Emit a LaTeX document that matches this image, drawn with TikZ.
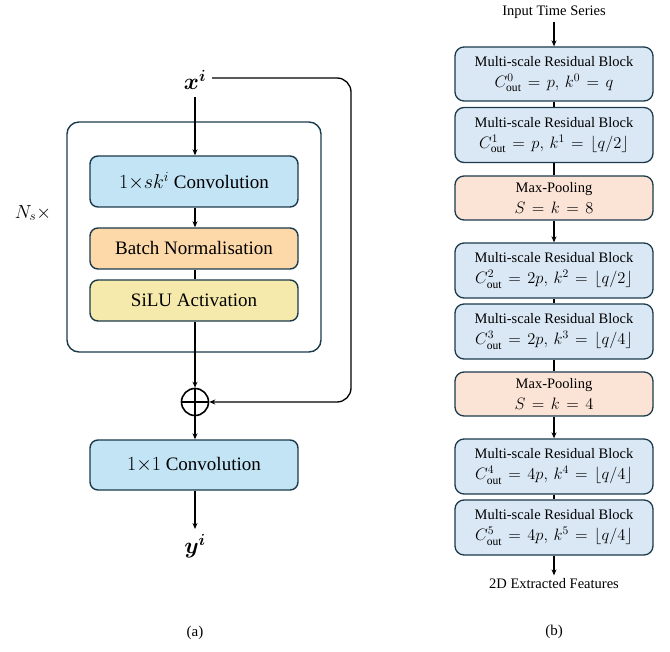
\RequirePackage{fix-cm}
\documentclass[tikz,border=0pt]{standalone}
\usepackage{amsmath,bm}
\usepackage{fontspec}
\setmainfont{Liberation Serif}
\usetikzlibrary{arrows.meta}
\definecolor{navy}{HTML}{1B3A4B}
\definecolor{convblue}{HTML}{C2E4F5}
\definecolor{bnorange}{HTML}{FDD9AA}
\definecolor{siluyellow}{HTML}{F5EAAC}
\definecolor{resblue}{HTML}{DAE8F6}
\definecolor{poolpink}{HTML}{FBE3D6}
\newcommand{\mline}[1]{{\fontsize{16.5}{19}\selectfont\thickmuskip=7mu plus 2mu\medmuskip=5mu $#1$}}
\tikzset{
  lblk/.style={draw=navy, line width=1.4pt, rounded corners=8pt, minimum width=208pt, align=center, font=\fontsize{19}{22}\selectfont, inner sep=0pt},
  rblk/.style={draw=navy, line width=1.3pt, rounded corners=9pt, minimum width=198pt, align=center, font=\fontsize{14.5}{21}\selectfont, inner sep=0pt},
  arr/.style={-{Stealth[length=6pt,width=5pt]}, line width=1.3pt, black},
  ln/.style={line width=1.3pt, black},
}
\begin{document}
\begin{tikzpicture}[x=1pt,y=-1pt]
\useasboundingbox (0,0) rectangle (670,652);
% ---------- (a) ----------
\node (xi) at (195,80) {\fontsize{23}{25}\selectfont $\bm{x}^{\bm{i}}$};
\node[draw=navy, line width=1.4pt, rounded corners=12pt, minimum width=254pt, minimum height=230pt] (outer) at (194,237) {};
\node[lblk, fill=convblue, minimum height=51pt] (conv) at (194,181.5) {{\fontsize{20}{22}\selectfont$1{\times}sk^{i}$} Convolution};
\node[lblk, fill=bnorange, minimum height=41pt] (bn) at (194,248.5) {Batch Normalisation};
\node[lblk, fill=siluyellow, minimum height=41pt] (silu) at (194,300.5) {SiLU Activation};
\node[circle, draw=black, line width=1.6pt, minimum size=27pt, inner sep=0pt] (plus) at (195,402) {};
\draw[line width=1.6pt] (plus.north) -- (plus.south) (plus.west) -- (plus.east);
\node[lblk, fill=convblue, minimum height=50pt] (conv1) at (194,465) {{\fontsize{20}{22}\selectfont$1{\times}1$} Convolution};
\node (yi) at (195,546) {\fontsize{23}{25}\selectfont $\bm{y}^{\bm{i}}$};
\node (ns) at (33,213) {\fontsize{19}{22}\selectfont $N_s\times$};
\node (la) at (195,633) {\fontsize{15}{17}\selectfont (a)};
\draw[arr] (195,97) -- (conv.north -| 195,0);
\draw[arr] (conv.south -| 195,0) -- (bn.north -| 195,0);
\draw[ln] (bn.south -| 195,0) -- (silu.north -| 195,0);
\draw[arr] (silu.south -| 195,0) -- (plus.north);
\draw[arr] (plus.south) -- (conv1.north -| 195,0);
\draw[arr] (conv1.south -| 195,0) -- (195,529);
\coordinate (skA) at (212,78);
\coordinate (skB) at (351,78);
\coordinate (skC) at (351,402);
\draw[arr, rounded corners=14pt] (skA) -- (skB) -- (skC) -- (plus.east);
% ---------- (b) ----------
\node (its) at (554,12) {\fontsize{14.5}{16}\selectfont Input Time Series};
\node[rblk, fill=resblue, minimum height=54pt] (b1) at (554,74) {Multi-scale Residual Block\\ \mline{C^{0}_{\mathrm{out}}=p,\, k^{0}=q}};
\node[rblk, fill=resblue, minimum height=55pt] (b2) at (554,135) {Multi-scale Residual Block\\ \mline{C^{1}_{\mathrm{out}}=p,\, k^{1}=\lfloor q/2\rfloor}};
\node[rblk, fill=poolpink, minimum height=44pt] (mp1) at (554,198) {Max-Pooling\\ \mline{S=k=8}};
\node[rblk, fill=resblue, minimum height=55pt] (b3) at (554,270.5) {Multi-scale Residual Block\\ \mline{C^{2}_{\mathrm{out}}=2p,\, k^{2}=\lfloor q/2\rfloor}};
\node[rblk, fill=resblue, minimum height=55pt] (b4) at (554,331.5) {Multi-scale Residual Block\\ \mline{C^{3}_{\mathrm{out}}=2p,\, k^{3}=\lfloor q/4\rfloor}};
\node[rblk, fill=poolpink, minimum height=44pt] (mp2) at (554,394) {Max-Pooling\\ \mline{S=k=4}};
\node[rblk, fill=resblue, minimum height=55pt] (b5) at (554,466.5) {Multi-scale Residual Block\\ \mline{C^{4}_{\mathrm{out}}=4p,\, k^{4}=\lfloor q/4\rfloor}};
\node[rblk, fill=resblue, minimum height=55pt] (b6) at (554,527.5) {Multi-scale Residual Block\\ \mline{C^{5}_{\mathrm{out}}=4p,\, k^{5}=\lfloor q/4\rfloor}};
\node (feat) at (554,584) {\fontsize{14.5}{16}\selectfont 2D Extracted Features};
\node (lb) at (554,632) {\fontsize{15}{17}\selectfont (b)};
\draw[arr] (its.south) -- (b1.north);
\draw[ln] (b1.south) -- (b2.north);
\draw[ln] (b2.south) -- (mp1.north);
\draw[arr] (mp1.south) -- (b3.north);
\draw[ln] (b3.south) -- (b4.north);
\draw[ln] (b4.south) -- (mp2.north);
\draw[arr] (mp2.south) -- (b5.north);
\draw[ln] (b5.south) -- (b6.north);
\draw[arr] (b6.south) -- (feat.north);
\end{tikzpicture}
\end{document}
